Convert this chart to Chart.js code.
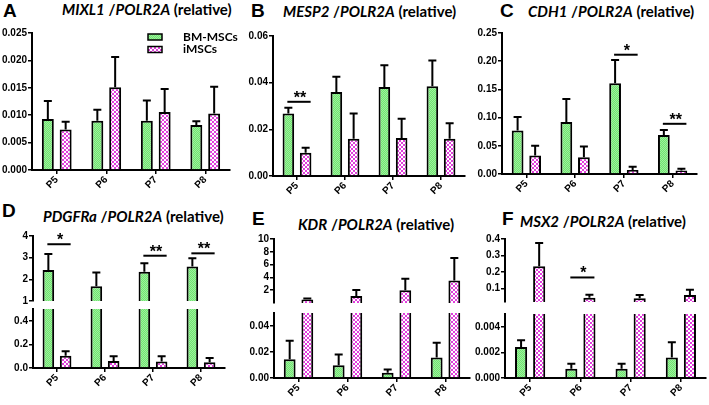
<!DOCTYPE html>
<html>
<head>
<meta charset="utf-8">
<script src="https://cdn.jsdelivr.net/npm/chart.js@4.4.0/dist/chart.umd.min.js"></script>
<style>
  body { margin: 0; background: #fff; }
  #fig { position: relative; width: 709px; height: 405px; overflow: hidden; }
  canvas { position: absolute; }
  .lbl { position: absolute; font: bold 19px "Liberation Sans", Arial, sans-serif; line-height: 1; }
  .ttl { position: absolute; font: bold 15px Lato, sans-serif; line-height: 1; white-space: nowrap; }
</style>
</head>
<body>
<div id="fig">
  <div class="lbl" style="left:3px;top:1px">A</div>
  <div class="ttl" style="left:62px;top:2px"><i>MIXL1</i> /<i>POLR2A</i> (relative)</div>
  <div class="lbl" style="left:251px;top:1px">B</div>
  <div class="ttl" style="left:283px;top:4px"><i>MESP2</i> /<i>POLR2A</i> (relative)</div>
  <div class="lbl" style="left:500px;top:1px">C</div>
  <div class="ttl" style="left:528px;top:4px"><i>CDH1</i> /<i>POLR2A</i> (relative)</div>
  <div class="lbl" style="left:2px;top:201px">D</div>
  <div class="ttl" style="left:43px;top:209px"><i>PDGFRa</i> /<i>POLR2A</i> (relative)</div>
  <div class="lbl" style="left:252px;top:209px">E</div>
  <div class="ttl" style="left:298px;top:217px"><i>KDR</i> /<i>POLR2A</i> (relative)</div>
  <div class="lbl" style="left:502px;top:209px">F</div>
  <div class="ttl" style="left:520px;top:214px"><i>MSX2</i> /<i>POLR2A</i> (relative)</div>
</div>
<script>
var categories = ["P5", "P6", "P7", "P8"];
var seriesNames = ["BM-MSCs", "iMSCs"];

// A - MIXL1
var mixl1Bm = [0.0093, 0.0090, 0.0090, 0.0082];
var mixl1BmErr = [0.0126, 0.0110, 0.0127, 0.0089];
var mixl1Ims = [0.0074, 0.0151, 0.0106, 0.0103];
var mixl1ImsErr = [0.0088, 0.0206, 0.0148, 0.0152];
var mixl1Ticks = [0, 0.005, 0.010, 0.015, 0.020, 0.025];

// B - MESP2
var mesp2Bm = [0.0268, 0.0360, 0.0381, 0.0385];
var mesp2BmErr = [0.0292, 0.0425, 0.0475, 0.0495];
var mesp2Ims = [0.0100, 0.0160, 0.0163, 0.0160];
var mesp2ImsErr = [0.0121, 0.0268, 0.0245, 0.0226];
var mesp2Ticks = [0, 0.02, 0.04, 0.06];

// C - CDH1
var cdh1Bm = [0.077, 0.092, 0.161, 0.069];
var cdh1BmErr = [0.101, 0.133, 0.202, 0.078];
var cdh1Ims = [0.0326, 0.0296, 0.007, 0.006];
var cdh1ImsErr = [0.050, 0.0486, 0.013, 0.0095];
var cdh1Ticks = [0, 0.05, 0.10, 0.15, 0.20, 0.25];

// D - PDGFRa (broken axis)
var pdgfBm = [2.43, 1.68, 2.35, 2.59];
var pdgfBmErr = [3.17, 2.32, 2.74, 2.97];
var pdgfIms = [0.103, 0.060, 0.055, 0.048];
var pdgfImsErr = [0.143, 0.100, 0.100, 0.085];
var pdgfTicksHigh = [1, 2, 3, 4];
var pdgfTicksLow = [0, 0.1, 0.2, 0.3, 0.4, 0.5];

// E - KDR (broken axis)
var kdrBm = [0.0145, 0.0098, 0.0041, 0.0158];
var kdrBmErr = [0.0287, 0.0180, 0.0065, 0.0272];
var kdrIms = [0.55, 1.1, 2.0, 3.5];
var kdrImsErr = [0.70, 2.05, 3.8, 7.05];
var kdrTicksHigh = [2, 4, 6, 8, 10];
var kdrTicksLow = [0, 0.01, 0.02, 0.03, 0.04, 0.05];

// F - MSX2 (broken axis)
var msx2Bm = [0.00242, 0.00073, 0.00073, 0.00161];
var msx2BmErr = [0.00294, 0.00112, 0.00112, 0.00280];
var msx2Ims = [0.236, 0.046, 0.042, 0.062];
var msx2ImsErr = [0.376, 0.064, 0.062, 0.094];
var msx2TicksHigh = [0.1, 0.2, 0.3, 0.4];
var msx2TicksLow = [0, 0.001, 0.002, 0.003, 0.004, 0.005];

// fill patterns
function makePattern(c1, c2, cell) {
  var p = document.createElement("canvas");
  p.width = cell * 2; p.height = cell * 2;
  var g = p.getContext("2d");
  g.fillStyle = c1; g.fillRect(0, 0, cell * 2, cell * 2);
  g.fillStyle = c2;
  g.fillRect(0, 0, cell, cell);
  g.fillRect(cell, cell, cell, cell);
  return g.createPattern(p, "repeat");
}
var greenFill = makePattern("#9cf29c", "#72e272", 1);
var pinkFill = makePattern("#ffffff", "#e03fdc", 2);

var tickFont = { family: "'Liberation Sans', Arial, sans-serif", size: 10, weight: "bold" };

var extras = {
  id: "extras",
  afterDatasetsDraw: function (chart) {
    var o = chart.options.plugins.extras;
    var ctx = chart.ctx, a = chart.chartArea, ys = chart.scales.y;
    ctx.save();
    ctx.beginPath();
    ctx.rect(a.left, a.top - 6, a.right - a.left + 6, a.bottom - a.top + 6);
    ctx.clip();
    ctx.strokeStyle = "#000";
    ctx.lineWidth = 2;
    o.err.forEach(function (errs, di) {
      var meta = chart.getDatasetMeta(di);
      meta.data.forEach(function (bar, i) {
        var y1 = ys.getPixelForValue(errs[i]);
        if (y1 > a.bottom - 1.5) return; // error bar lives in the other half of a broken axis
        ctx.beginPath();
        ctx.moveTo(bar.x, bar.y);
        ctx.lineTo(bar.x, y1);
        ctx.moveTo(bar.x - 4, y1);
        ctx.lineTo(bar.x + 4, y1);
        ctx.stroke();
      });
    });
    ctx.restore();

    // significance marks
    ctx.save();
    ctx.strokeStyle = "#000";
    ctx.fillStyle = "#000";
    ctx.lineWidth = 2;
    ctx.font = "bold 16px 'Liberation Sans', Arial, sans-serif";
    ctx.textAlign = "center";
    ctx.textBaseline = "alphabetic";
    (o.sig || []).forEach(function (s) {
      var b0 = chart.getDatasetMeta(0).data[s.i];
      var b1 = chart.getDatasetMeta(1).data[s.i];
      var x0 = b0.x - 1, x1 = b1.x + 5, y = ys.getPixelForValue(s.y);
      ctx.beginPath();
      ctx.moveTo(x0, y);
      ctx.lineTo(x1, y);
      ctx.stroke();
      ctx.fillText(s.t, (x0 + x1) / 2 + 1, y + 1);
    });
    ctx.restore();

    // legend
    if (o.legend) {
      ctx.save();
      var lx = a.left + 116, ly = a.top + 1;
      [greenFill, pinkFill].forEach(function (f, k) {
        var yy = ly + k * 12.5;
        ctx.fillStyle = f;
        ctx.fillRect(lx, yy, 14, 6);
        ctx.strokeStyle = "#000";
        ctx.lineWidth = 1.5;
        ctx.strokeRect(lx, yy, 14, 6);
        ctx.fillStyle = "#000";
        ctx.font = "bold 12px Lato, sans-serif";
        ctx.textBaseline = "middle";
        ctx.fillText(seriesNames[k], lx + 35, yy + 3);
      });
      ctx.restore();
    }
  }
};

var fig = document.getElementById("fig");

// p: panelX, area {l,t,r,b}, min, max, ticks, dec, showX, bm, bmErr, ims, imsErr, sig, legend
function makeChart(p) {
  var padTop = 8, padRight = 10, padBottom = 7, xH = 30;
  var W = p.area.l - p.panelX;
  var canvas = document.createElement("canvas");
  var top = p.area.t - padTop;
  var width = p.area.r + padRight - p.panelX;
  var height = p.showX ? (p.area.b + xH - top) : (p.area.b + padBottom - top);
  canvas.width = width;
  canvas.height = height;
  canvas.style.left = p.panelX + "px";
  canvas.style.top = top + "px";
  fig.appendChild(canvas);

  return new Chart(canvas.getContext("2d"), {
    type: "bar",
    data: {
      labels: categories,
      datasets: [
        { label: seriesNames[0], data: p.bm, backgroundColor: greenFill, borderColor: "#000", borderWidth: 2, clip: 0 },
        { label: seriesNames[1], data: p.ims, backgroundColor: pinkFill, borderColor: "#000", borderWidth: 2, clip: 0 }
      ]
    },
    options: {
      responsive: false,
      animation: false,
      events: [],
      categoryPercentage: 0.72,
      barPercentage: 0.67,
      layout: { padding: { top: padTop, right: padRight, bottom: p.showX ? 0 : padBottom, left: 0 } },
      scales: {
        x: {
          display: p.showX,
          offset: true,
          grid: { offset: false, drawOnChartArea: false, tickLength: 4, color: "#000", lineWidth: 1.5 },
          border: { display: true, color: "#000", width: 2 },
          ticks: { font: tickFont, color: "#000", minRotation: 45, maxRotation: 45, padding: 0 },
          afterFit: function (s) { s.height = p.showX ? xH : 0; }
        },
        y: {
          min: p.min,
          max: p.max,
          afterBuildTicks: function (s) { s.ticks = p.ticks.map(function (v) { return { value: v }; }); },
          grid: { drawOnChartArea: false, tickLength: 4, color: "#000", lineWidth: 1.5 },
          border: { display: true, color: "#000", width: 2 },
          ticks: {
            font: tickFont, color: "#000", padding: 1,
            callback: function (v) { return Number(v).toFixed(p.dec); }
          },
          afterFit: function (s) { s.width = W; }
        }
      },
      plugins: {
        legend: { display: false },
        tooltip: { enabled: false },
        extras: { err: [p.bmErr, p.imsErr], sig: p.sig, legend: p.legend }
      }
    },
    plugins: [extras]
  });
}

// A
makeChart({ panelX: 0, area: { l: 32, t: 33, r: 230, b: 170 }, min: 0, max: 0.025, ticks: mixl1Ticks, dec: 3, showX: true,
  bm: mixl1Bm, bmErr: mixl1BmErr, ims: mixl1Ims, imsErr: mixl1ImsErr, legend: true });
// B
makeChart({ panelX: 235, area: { l: 273, t: 36, r: 465, b: 176 }, min: 0, max: 0.06, ticks: mesp2Ticks, dec: 2, showX: true,
  bm: mesp2Bm, bmErr: mesp2BmErr, ims: mesp2Ims, imsErr: mesp2ImsErr, sig: [{ i: 0, y: 0.0318, t: "**" }] });
// C
makeChart({ panelX: 470, area: { l: 502, t: 33, r: 697, b: 174 }, min: 0, max: 0.25, ticks: cdh1Ticks, dec: 2, showX: true,
  bm: cdh1Bm, bmErr: cdh1BmErr, ims: cdh1Ims, imsErr: cdh1ImsErr,
  sig: [{ i: 2, y: 0.2115, t: "*" }, { i: 3, y: 0.089, t: "**" }] });
// D
makeChart({ panelX: 0, area: { l: 33, t: 236, r: 225, b: 301 }, min: 1, max: 4, ticks: pdgfTicksHigh, dec: 0, showX: false,
  bm: pdgfBm, bmErr: pdgfBmErr, ims: pdgfIms, imsErr: pdgfImsErr,
  sig: [{ i: 0, y: 3.62, t: "*" }, { i: 2, y: 3.09, t: "**" }, { i: 3, y: 3.2, t: "**" }] });
makeChart({ panelX: 0, area: { l: 33, t: 309, r: 225, b: 368 }, min: 0, max: 0.5, ticks: pdgfTicksLow, dec: 1, showX: true,
  bm: pdgfBm, bmErr: pdgfBmErr, ims: pdgfIms, imsErr: pdgfImsErr });
// E
makeChart({ panelX: 235, area: { l: 274, t: 239, r: 470, b: 303 }, min: 0, max: 10, ticks: kdrTicksHigh, dec: 0, showX: false,
  bm: kdrBm, bmErr: kdrBmErr, ims: kdrIms, imsErr: kdrImsErr });
makeChart({ panelX: 235, area: { l: 274, t: 313, r: 470, b: 378 }, min: 0, max: 0.05, ticks: kdrTicksLow, dec: 2, showX: true,
  bm: kdrBm, bmErr: kdrBmErr, ims: kdrIms, imsErr: kdrImsErr });
// F
makeChart({ panelX: 470, area: { l: 505, t: 239, r: 706, b: 302 }, min: 0.02, max: 0.4, ticks: msx2TicksHigh, dec: 1, showX: false,
  bm: msx2Bm, bmErr: msx2BmErr, ims: msx2Ims, imsErr: msx2ImsErr, sig: [{ i: 1, y: 0.168, t: "*" }] });
makeChart({ panelX: 470, area: { l: 505, t: 314, r: 706, b: 378 }, min: 0, max: 0.005, ticks: msx2TicksLow, dec: 3, showX: true,
  bm: msx2Bm, bmErr: msx2BmErr, ims: msx2Ims, imsErr: msx2ImsErr });
</script>
</body>
</html>
